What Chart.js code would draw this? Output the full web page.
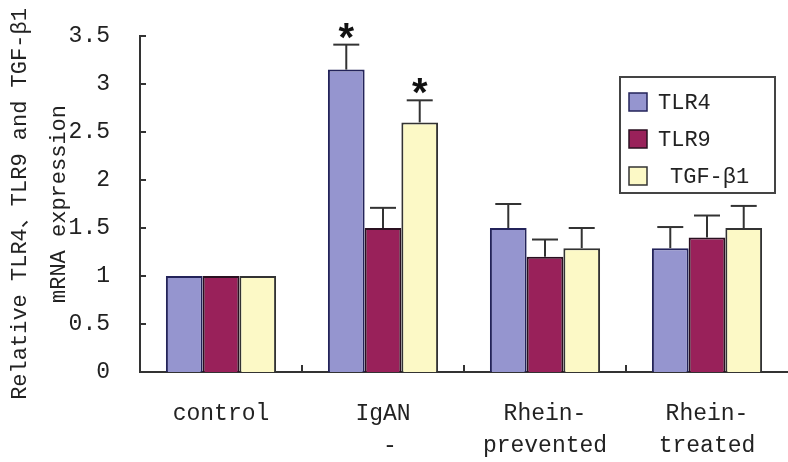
<!DOCTYPE html>
<html>
<head>
<meta charset="utf-8">
<script src="https://cdn.jsdelivr.net/npm/chart.js@4/dist/chart.umd.min.js"></script>
<style>
  html, body { margin: 0; padding: 0; background: #ffffff; }
  #wrap { width: 788px; height: 462px; position: relative; }
</style>
</head>
<body>
<div id="wrap"><canvas id="c" width="788" height="462"></canvas></div>
<script>
// ---- data ----
const categories = [["control"], ["IgAN", " -"], ["Rhein-", "prevented"], ["Rhein-", "treated"]];
const seriesNames = ["TLR4", "TLR9", "TGF-β1"];
const tlr4Values = [1.0, 3.15, 1.5, 1.29];
const tlr9Values = [1.0, 1.5, 1.2, 1.4];
const tgfValues  = [1.0, 2.6, 1.29, 1.5];
const tlr4Errors = [0, 0.26, 0.25, 0.22];
const tlr9Errors = [0, 0.21, 0.18, 0.23];
const tgfErrors  = [0, 0.23, 0.21, 0.23];
const tlr4Marks = ["", "*", "", ""];
const tlr9Marks = ["", "", "", ""];
const tgfMarks  = ["", "*", "", ""];
const yTickLabels = ["0", "0.5", "1", "1.5", "2", "2.5", "3", "3.5"];
const yTitle = ["Relative TLR4、TLR9 and TGF-β1", "mRNA expression"];

const FONT = "'Liberation Mono', 'Noto Sans CJK SC', monospace";
const fills = ["#9595cf", "#99215a", "#fcf9c6"];
const borders = ["#23235a", "#2a1020", "#333333"];
const errors = [tlr4Errors, tlr9Errors, tgfErrors];
const marks = [tlr4Marks, tlr9Marks, tgfMarks];

const decorPlugin = {
  id: 'decor',
  afterDatasetsDraw(chart) {
    const ctx = chart.ctx;
    const ys = chart.scales.y, xs = chart.scales.x;
    const area = chart.chartArea;
    ctx.save();
    ctx.strokeStyle = "#333";
    ctx.lineWidth = 2;
    ys.ticks.forEach(t => {
      const py = Math.round(ys.getPixelForValue(t.value));
      ctx.beginPath(); ctx.moveTo(area.left, py); ctx.lineTo(area.left + 6, py); ctx.stroke();
    });
    for (let i = 1; i < categories.length; i++) {
      const px = Math.round((xs.getPixelForValue(i - 1) + xs.getPixelForValue(i)) / 2);
      ctx.beginPath(); ctx.moveTo(px, area.bottom); ctx.lineTo(px, area.bottom - 7); ctx.stroke();
    }
    chart.data.datasets.forEach((ds, di) => {
      const meta = chart.getDatasetMeta(di);
      meta.data.forEach((bar, i) => {
        const err = errors[di][i];
        const yTop = ys.getPixelForValue(ds.data[i]);
        const yCap = ys.getPixelForValue(ds.data[i] + err);
        if (err > 0) {
          ctx.strokeStyle = "#333";
          ctx.lineWidth = 2;
          ctx.beginPath(); ctx.moveTo(bar.x, yTop); ctx.lineTo(bar.x, yCap); ctx.stroke();
          ctx.beginPath(); ctx.moveTo(bar.x - 13, yCap); ctx.lineTo(bar.x + 13, yCap); ctx.stroke();
        }
        const m = marks[di][i];
        if (m) {
          ctx.fillStyle = "#111";
          ctx.font = "bold 40px 'Liberation Sans', sans-serif";
          ctx.textAlign = "center";
          ctx.textBaseline = "alphabetic";
          ctx.fillText(m, bar.x, yCap + 6);
        }
      });
    });
    const lx = 620, ly = 77, lw = 155, lh = 116;
    ctx.fillStyle = "#fff";
    ctx.fillRect(lx, ly, lw, lh);
    ctx.strokeStyle = "#444";
    ctx.lineWidth = 2;
    ctx.strokeRect(lx, ly, lw, lh);
    ctx.font = "22px " + FONT;
    ctx.textAlign = "left";
    ctx.textBaseline = "middle";
    seriesNames.forEach((name, k) => {
      const cy = 102 + k * 37;
      ctx.fillStyle = fills[k];
      ctx.fillRect(629, cy - 9, 18, 18);
      ctx.strokeStyle = borders[k];
      ctx.lineWidth = 1.5;
      ctx.strokeRect(629, cy - 9, 18, 18);
      ctx.fillStyle = "#222";
      ctx.fillText(name, k === 2 ? 670 : 658, cy + 1);
    });
    ctx.restore();
  }
};

new Chart(document.getElementById('c'), {
  type: 'bar',
  data: {
    labels: categories,
    datasets: [
      { label: seriesNames[0], data: tlr4Values, backgroundColor: fills[0], borderColor: borders[0], borderWidth: 2 },
      { label: seriesNames[1], data: tlr9Values, backgroundColor: fills[1], borderColor: borders[1], borderWidth: 2 },
      { label: seriesNames[2], data: tgfValues,  backgroundColor: fills[2], borderColor: borders[2], borderWidth: 2 }
    ]
  },
  options: {
    responsive: false,
    animation: false,
    devicePixelRatio: 1,
    layout: { padding: { top: 36, right: 0, left: 0, bottom: 0 } },
    categoryPercentage: 0.68,
    barPercentage: 1.0,
    plugins: { legend: { display: false }, tooltip: { enabled: false } },
    scales: {
      x: {
        grid: { display: false },
        border: { display: true, color: "#333", width: 2 },
        ticks: { color: "#222", font: { family: FONT, size: 23, lineHeight: 1.4 }, padding: 18, maxRotation: 0, autoSkip: false },
        afterFit(scale) { scale.height = 90; }
      },
      y: {
        min: 0, max: 3.5,
        grid: { display: false },
        border: { display: true, color: "#333", width: 2 },
        ticks: { stepSize: 0.5, color: "#222", font: { family: FONT, size: 23 }, padding: 22,
                 callback: (v, i) => yTickLabels[i] },
        title: { display: true, text: yTitle, color: "#222", font: { family: FONT, size: 22, lineHeight: 1.8 }, padding: { top: 0, bottom: 0 } },
        afterFit(scale) { scale.width = 140; }
      }
    }
  },
  plugins: [decorPlugin]
});
</script>
</body>
</html>
